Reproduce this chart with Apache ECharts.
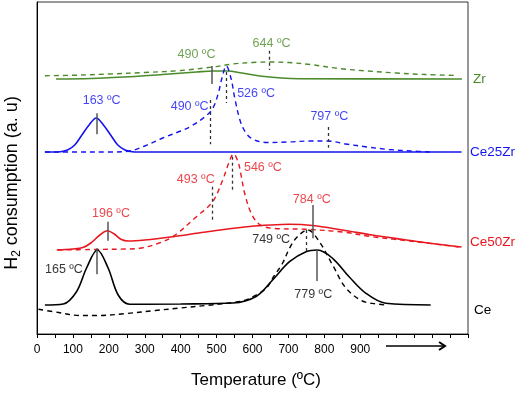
<!DOCTYPE html>
<html>
<head>
<meta charset="utf-8">
<script src="https://cdn.jsdelivr.net/npm/echarts@6/dist/echarts.min.js"></script>
<style>
  html, body { margin: 0; padding: 0; background: #fff; }
  #tpr-chart { width: 521px; height: 393px; }
</style>
</head>
<body>
<div id="tpr-chart"></div>
<script>
// temperatures (ºC) and signal (a.u., stacked offsets included)
var zrT      = [53, 150, 258, 350, 444, 490, 530, 570, 620, 680, 730, 1183];
var zrY      = [255, 255.5, 257.3, 259.5, 262, 263, 263, 261, 258, 256, 255.3, 255];
var zrDashT  = [22, 100, 200, 300, 400, 490, 545, 600, 650, 700, 760, 840, 920, 1000, 1080, 1170];
var zrDashY  = [258.3, 258.7, 260, 261.5, 263.5, 267, 270, 271.5, 272, 271.5, 269.5, 265.5, 263, 261, 259.5, 258.5];

var ce25T     = [22, 65, 85, 105, 125, 145, 165, 185, 205, 225, 245, 265, 300, 1182];
var ce25Y     = [182, 182.3, 184, 189, 199, 209, 216, 209, 199, 189, 184, 182.3, 182, 182];
var ce25DashT = [22, 100, 200, 258, 300, 350, 400, 430, 470, 490, 505, 515, 527, 540, 550, 565, 580, 600, 640, 700, 760, 808, 860, 920, 980, 1040, 1096];
var ce25DashY = [182, 182, 182, 183, 188, 196, 203, 208, 218, 226, 241, 256, 268, 256, 237, 214, 202, 195, 191.5, 192, 193, 193, 190, 187, 184.5, 183, 182];

var ce50T     = [55, 100, 128, 150, 175, 196, 215, 235, 254, 300, 378, 450, 520, 592, 650, 703, 767, 850, 933, 1020, 1100, 1182];
var ce50Y     = [84, 85, 86.5, 91, 99, 103.3, 100, 94.5, 93, 94, 97.3, 101, 104.5, 107.5, 109, 109.7, 108.5, 104, 99, 94.5, 90.5, 87];
var ce50DashT = [58, 150, 250, 286, 332, 378, 444, 489, 517, 535, 547, 560, 569, 578, 596, 619, 656, 749, 850, 933, 1050, 1180];
var ce50DashY = [84, 84.5, 85, 85.7, 90, 97.3, 117.3, 132.3, 154, 172, 180, 172, 157.3, 141, 121, 109.7, 105.7, 104.7, 102, 97.3, 92.5, 86.7];

var ceT     = [22, 73, 110, 138, 168, 198, 226, 258, 400, 545, 610, 656, 703, 749, 781, 823, 869, 916, 971, 1096];
var ceY     = [29, 30, 42.3, 66, 84, 66, 39, 29.7, 30, 31, 37.5, 54, 72.3, 82.3, 84, 75.7, 57.3, 40.7, 30.7, 29];
var ceDashT = [4, 60, 119, 166, 250, 330, 400, 470, 545, 582, 610, 639, 660, 684, 703, 725, 754, 786, 823, 860, 906, 953, 972];
var ceDashY = [24.7, 21.5, 18.5, 18.5, 20.5, 23.5, 26, 28.5, 31.5, 34, 39, 46, 58, 71, 85.7, 97.3, 104, 92.3, 69, 46, 33, 29.7, 29];

// peak marks: text, sample, temperature of mark, mark from/to, dashed?, label temp, label level
var peaks = [
  ['490 ºC', 'Zr',     486, 268,   250,   false, 444, 279],
  ['644 ºC', 'Zr',     647, 283.3, 264,   true,  653, 290],
  ['163 ºC', 'Ce25Zr', 167, 220.7, 199.7, false, 180, 233],
  ['490 ºC', 'Ce25Zr', 481, 234,   189.7, true,  425, 227.3],
  ['526 ºC', 'Ce25Zr', 528, 262,   231,   true,  610, 240.7],
  ['797 ºC', 'Ce25Zr', 811, 207,   186.3, true,  814, 217.3],
  ['196 ºC', 'Ce50Zr', 196, 112.3, 93.3,  false, 206, 120.7],
  ['493 ºC', 'Ce50Zr', 488, 147.3, 112.3, true,  442, 154.7],
  ['546 ºC', 'Ce50Zr', 545, 177.3, 142.3, true,  629, 166.7],
  ['784 ºC', 'Ce50Zr', 767, 129,   95.7,  false, 765, 134.7],
  ['749 ºC', 'Ce',     749, 104,   82.3,  true,  652, 94],
  ['165 ºC', 'Ce',     167, 85.7,  59.7,  false, 75,  64],
  ['779 ºC', 'Ce',     780, 84,    53,    false, 769, 39]
];

var colors = { Zr: '#4b8b2b', Ce25Zr: '#1414f0', Ce50Zr: '#e8171f', Ce: '#000000' };
var font = "'Liberation Sans', Arial, sans-serif";

function zip(t, y) {
  return t.map(function (v, i) { return [v, y[i]]; });
}

function curve(name, t, y, dashed) {
  return {
    type: 'line',
    name: name,
    data: zip(t, y),
    smooth: 0.35,
    symbol: 'none',
    silent: true,
    lineStyle: {
      color: colors[name],
      width: dashed ? 1.4 : 1.6,
      type: dashed ? [5, 4] : 'solid'
    }
  };
}

var chart = echarts.init(document.getElementById('tpr-chart'));

var series = [
  curve('Zr', zrT, zrY, false),
  curve('Zr', zrDashT, zrDashY, true),
  curve('Ce25Zr', ce25T, ce25Y, false),
  curve('Ce25Zr', ce25DashT, ce25DashY, true),
  curve('Ce50Zr', ce50T, ce50Y, false),
  curve('Ce50Zr', ce50DashT, ce50DashY, true),
  curve('Ce', ceT, ceY, false),
  curve('Ce', ceDashT, ceDashY, true)
];

// vertical peak markers
series[6].markLine = {
  silent: true,
  symbol: ['none', 'none'],
  label: { show: false },
  animation: false,
  data: peaks.map(function (p) {
    return [
      { coord: [p[2], p[3]], lineStyle: { color: p[5] ? '#333' : '#555', width: p[5] ? 1.3 : 1.5, type: p[5] ? [3, 3] : 'solid' } },
      { coord: [p[2], p[4]] }
    ];
  })
};

// peak labels
series.push({
  type: 'scatter',
  silent: true,
  symbolSize: 1,
  itemStyle: { color: 'transparent' },
  data: peaks.map(function (p) {
    return {
      value: [p[6], p[7]],
      label: {
        show: true,
        position: 'inside',
        formatter: p[0],
        color: colors[p[1]],
        fontSize: 12.5,
        fontFamily: font
      }
    };
  })
});

var option = {
  animation: false,
  textStyle: { fontFamily: font },
  grid: {
    left: 37, right: 53, top: 2, bottom: 59,
    show: true, borderColor: '#333', borderWidth: 1,
    containLabel: false, outerBoundsMode: 'none'
  },
  xAxis: {
    type: 'value',
    min: 0, max: 1200, interval: 50,
    name: 'Temperature (ºC)',
    nameLocation: 'middle',
    nameGap: 38,
    nameTextStyle: { fontSize: 17, color: '#000', fontFamily: font, padding: [0, 0, 0, 7] },
    axisLine: { lineStyle: { color: '#000', width: 1 } },
    axisTick: { length: 4, lineStyle: { color: '#000' } },
    axisLabel: {
      margin: 10, fontSize: 12, color: '#000', fontFamily: font,
      formatter: function (v) { return (v % 100 === 0 && v <= 900) ? String(v) : ''; }
    },
    splitLine: { show: false }
  },
  yAxis: {
    type: 'value',
    min: 0, max: 332,
    axisLine: { show: true, lineStyle: { color: '#000', width: 1 } },
    axisTick: { show: false },
    axisLabel: { show: false },
    splitLine: { show: false }
  },
  graphic: [
    {
      type: 'text', x: 12, y: 183, rotation: Math.PI / 2,
      style: {
        text: '{a|H}{s|2}{a| consumption (a. u)}',
        align: 'center', verticalAlign: 'middle',
        rich: {
          a: { fontSize: 18, fontFamily: font, fill: '#000', lineHeight: 22, verticalAlign: 'middle' },
          s: { fontSize: 12, fontFamily: font, fill: '#000', lineHeight: 22, verticalAlign: 'bottom', padding: [9, 0, 0, 0] }
        }
      }
    },
    { type: 'text', x: 473, y: 79, style: { text: 'Zr', fill: colors.Zr, fontSize: 13.5, fontFamily: font, verticalAlign: 'middle' } },
    { type: 'text', x: 470, y: 152, style: { text: 'Ce25Zr', fill: colors.Ce25Zr, fontSize: 13.5, fontFamily: font, verticalAlign: 'middle' } },
    { type: 'text', x: 470, y: 242, style: { text: 'Ce50Zr', fill: colors.Ce50Zr, fontSize: 13.5, fontFamily: font, verticalAlign: 'middle' } },
    { type: 'text', x: 474, y: 310, style: { text: 'Ce', fill: colors.Ce, fontSize: 13.5, fontFamily: font, verticalAlign: 'middle' } },
    { type: 'line', shape: { x1: 386, y1: 346, x2: 444, y2: 346 }, style: { stroke: '#000', lineWidth: 1.5 } },
    { type: 'polyline', shape: { points: [[439, 342], [445, 346], [439, 350]] }, style: { stroke: '#000', lineWidth: 2, fill: null } }
  ],
  series: series
};

chart.setOption(option);
window.addEventListener('resize', function () { chart.resize(); });
</script>
</body>
</html>
